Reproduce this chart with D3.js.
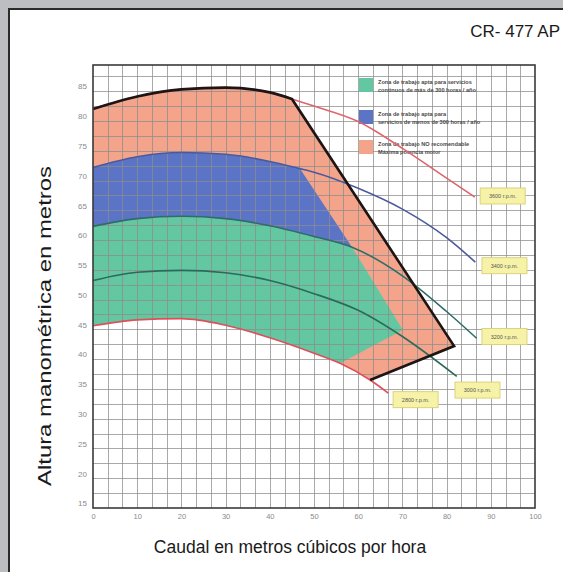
<!DOCTYPE html>
<html>
<head>
<meta charset="utf-8">
<script src="https://cdn.jsdelivr.net/npm/d3@7"></script>
<style>
  html, body { margin: 0; padding: 0; background: #bdbec2; }
  svg { display: block; font-family: "Liberation Sans", Arial, sans-serif; }
</style>
</head>
<body>
<svg id="chart" width="563" height="572"></svg>
<script>
// curvas de la bomba, [caudal m3/h, altura m]
const rpm3600 = [[0, 81.2], [10, 83.3], [20, 84.5], [30, 84.8], [40, 84.0], [45, 82.9], [50, 81.7], [60, 79.1], [70, 74.6], [80, 69.6], [86.4, 66.4]]
const rpm3400 = [[0, 71.4], [10, 73.2], [20, 73.9], [30, 73.6], [40, 72.4], [46.8, 71.2], [50, 70.6], [60, 67.9], [70, 64.4], [80, 59.6], [86.5, 55.5]]
const rpm3200 = [[0, 61.5], [10, 62.8], [20, 63.2], [30, 62.8], [40, 61.6], [50, 59.8], [58.6, 58.0], [70, 53.2], [80, 47.2], [86.8, 42.7]]
const rpm3000 = [[0, 52.4], [10, 53.8], [20, 54.1], [30, 53.7], [40, 52.4], [50, 50.2], [60, 47.4], [70, 43.0], [82.3, 36.3]]
const rpm2800 = [[0, 44.8], [10, 45.8], [20, 46.0], [30, 44.9], [40, 42.8], [50, 40.2], [55.9, 38.5], [62.7, 35.7], [66.8, 33.5]]

// limite negro (maxima potencia motor)
const limitLine = [[45, 82.9], [81.7, 41.4], [62.7, 35.7]]
// bordes de las zonas
const blueEdge = [[58.6, 58.0], [0, 55]]
const greenEdge = [[70.1, 44.1], [55.9, 38.5], [0, 40]]
const salmonEdge = [[0, 30]]

const rpmLabels = ["3600 r.p.m.", "3400 r.p.m.", "3200 r.p.m.", "3000 r.p.m.", "2800 r.p.m."]
const rpmLabelAt = [[87.6, 66.6], [88.0, 54.9], [88.0, 43.0], [81.9, 34.0], [67.9, 32.4]]

const xTicks = [0, 10, 20, 30, 40, 50, 60, 70, 80, 90, 100]
const yTicks = [15, 20, 25, 30, 35, 40, 45, 50, 55, 60, 65, 70, 75, 80, 85]

const legendItems = [
  ["Zona de trabajo apta para servicios", "continuos de más de 300 horas / año"],
  ["Zona de trabajo apta para", "servicios de menos de 300 horas / año"],
  ["Zona de trabajo NO recomendable", "Máxima potencia motor"]
]

const colors = { salmon: "#f4a48b", blue: "#5b74c6", green: "#63c7a1" }
const lineColors = ["#e0646c", "#4b5a9c", "#2f6d68", "#2c6a5a", "#df4f5a"]

const svg = d3.select("#chart")
const margin = { top: 65, right: 28, bottom: 64, left: 93 }
const width = 563 - margin.left - margin.right
const height = 572 - margin.top - margin.bottom

const x = d3.scaleLinear().domain([0, 100]).range([margin.left, margin.left + width])
const y = d3.scaleLinear().domain([14.2, 88.6]).range([margin.top + height, margin.top])

const line = d3.line().x(d => x(d[0])).y(d => y(d[1])).curve(d3.curveMonotoneX)
const upTo = (arr, q) => arr.filter(d => d[0] <= q)
const poly = pts => pts.map(d => "L" + x(d[0]) + "," + y(d[1])).join("")

// panel
svg.append("rect")
    .attr("x", 9).attr("y", 9).attr("width", 580).attr("height", 600)
    .attr("fill", "#fff").attr("stroke", "#2b2b2b").attr("stroke-width", 2)

svg.append("text")
    .attr("x", 560).attr("y", 37)
    .attr("text-anchor", "end")
    .attr("font-size", 17)
    .attr("fill", "#1a1a1a")
    .text("CR- 477 AP")

// zonas
svg.append("path")
    .attr("fill", colors.salmon)
    .attr("d", line(upTo(rpm3600, 45)) + poly(limitLine.slice(1)) + poly(salmonEdge) + "Z")

svg.append("path")
    .attr("fill", colors.blue)
    .attr("d", line(upTo(rpm3400, 46.8)) + poly(blueEdge) + "Z")

svg.append("path")
    .attr("fill", colors.green)
    .attr("d", line(upTo(rpm3200, 58.6)) + poly(greenEdge) + "Z")

svg.append("path")
    .attr("fill", "#fff")
    .attr("d", d3.area().x(d => x(d[0])).y0(y(14.2)).y1(d => y(d[1])).curve(d3.curveMonotoneX)(rpm2800))

// rejilla
const g = svg.append("g").attr("stroke", "#8c8c8c").attr("stroke-opacity", 0.75).attr("stroke-width", 1)
g.selectAll(".vg")
  .data(d3.range(1, 30).map(i => i * 10 / 3))
  .enter().append("line")
    .attr("class", "vg")
    .attr("x1", d => Math.round(x(d)) + 0.5).attr("x2", d => Math.round(x(d)) + 0.5)
    .attr("y1", margin.top).attr("y2", margin.top + height)
g.selectAll(".hg")
  .data(d3.range(1, 30).map(i => 14.2 + i * 2.5))
  .enter().append("line")
    .attr("class", "hg")
    .attr("y1", d => Math.round(y(d)) + 0.5).attr("y2", d => Math.round(y(d)) + 0.5)
    .attr("x1", margin.left).attr("x2", margin.left + width)

// leyenda
const leg = svg.append("g")
const swatch = [colors.green, colors.blue, colors.salmon]
const legTop = [78, 110, 140]
legendItems.forEach((item, i) => {
  leg.append("rect")
      .attr("x", 359).attr("y", legTop[i]).attr("width", 14).attr("height", 14)
      .attr("fill", swatch[i])
  item.forEach((t, j) => {
    leg.append("text")
        .attr("x", 378).attr("y", legTop[i] + 6 + j * 7.5)
        .attr("font-size", 5.6)
        .attr("font-weight", "bold")
        .attr("fill", "#4a4a4a")
        .text(t)
  })
})

// curvas
const curves = [rpm3600, rpm3400, rpm3200, rpm3000, rpm2800]
svg.selectAll(".rpm")
  .data(curves)
  .enter().append("path")
    .attr("class", "rpm")
    .attr("fill", "none")
    .attr("stroke", (d, i) => lineColors[i])
    .attr("stroke-width", 1.6)
    .attr("d", line)

svg.append("path")
    .attr("fill", "none")
    .attr("stroke", "#1f1414")
    .attr("stroke-width", 2.6)
    .attr("stroke-linejoin", "miter")
    .attr("d", line(upTo(rpm3600, 45)) + poly(limitLine.slice(1)))

// etiquetas r.p.m.
const lab = svg.selectAll(".lab")
  .data(rpmLabels)
  .enter().append("g")
    .attr("class", "lab")
    .attr("transform", (d, i) => "translate(" + x(rpmLabelAt[i][0]) + "," + y(rpmLabelAt[i][1]) + ")")
lab.append("rect")
    .attr("x", 0).attr("y", -8).attr("width", 45).attr("height", 16)
    .attr("fill", "#f6f2a8").attr("stroke", "#dcd37c").attr("stroke-width", 1)
lab.append("text")
    .attr("x", 22.5).attr("y", 2)
    .attr("text-anchor", "middle")
    .attr("font-size", 5.5)
    .attr("fill", "#555")
    .text(d => d)

// marco del grafico
svg.append("rect")
    .attr("x", margin.left).attr("y", margin.top).attr("width", width).attr("height", height)
    .attr("fill", "none").attr("stroke", "#3a3a3a").attr("stroke-width", 1.6)

// ejes
svg.append("g")
    .attr("transform", "translate(0," + (margin.top + height) + ")")
    .call(d3.axisBottom(x).tickValues(xTicks).tickSize(0).tickPadding(6))
    .call(a => a.select(".domain").remove())
    .call(a => a.selectAll("text").attr("fill", "#8a8a8a").attr("font-size", 7.5).attr("font-family", "Liberation Sans, Arial"))

svg.append("g")
    .attr("transform", "translate(" + margin.left + ",0)")
    .call(d3.axisLeft(y).tickValues(yTicks).tickSize(0).tickPadding(6))
    .call(a => a.select(".domain").remove())
    .call(a => a.selectAll("text").attr("fill", "#8a8a8a").attr("font-size", 8).attr("font-family", "Liberation Sans, Arial"))

svg.append("text")
    .attr("x", 290).attr("y", 553)
    .attr("text-anchor", "middle")
    .attr("font-size", 17.5)
    .attr("fill", "#1a1a1a")
    .text("Caudal en metros cúbicos por hora")

svg.append("text")
    .attr("transform", "translate(51,326) rotate(-90)")
    .attr("text-anchor", "middle")
    .attr("font-size", 17.5)
    .attr("textLength", 320)
    .attr("lengthAdjust", "spacingAndGlyphs")
    .attr("fill", "#1a1a1a")
    .text("Altura manométrica en metros")
</script>
</body>
</html>
